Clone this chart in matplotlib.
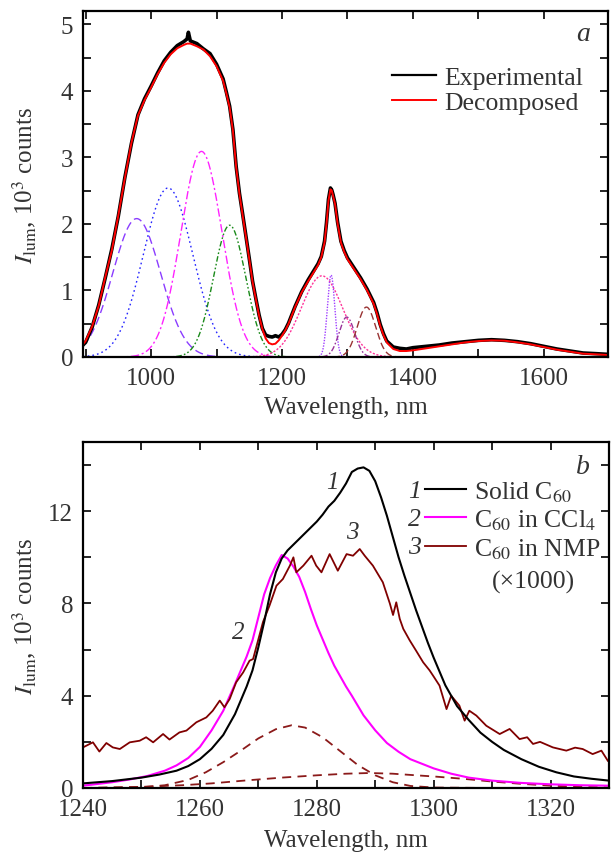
import numpy as np
import matplotlib
matplotlib.use('Agg')
import matplotlib.pyplot as plt
from matplotlib.lines import Line2D
from matplotlib.ticker import MultipleLocator

plt.rcParams['font.family'] = ['Liberation Serif', 'DejaVu Serif']
plt.rcParams['mathtext.fontset'] = 'stix'
plt.rcParams['font.size'] = 18
TXT = '#333333'

# ---------------- Panel a data ----------------
wl_a = [896, 900, 910, 920, 930, 940, 950, 960, 970, 980, 990, 1000, 1010, 1020, 1030, 1040, 1050,
        1055, 1057, 1060, 1070, 1080, 1090, 1100,
        1110, 1115, 1120, 1125, 1130, 1135, 1140, 1145, 1150, 1155, 1160, 1165, 1170, 1175, 1180,
        1185, 1190, 1195, 1200, 1205, 1210,
        1220, 1230, 1240, 1250, 1255, 1260, 1265, 1268, 1271, 1274, 1276, 1278, 1281,
        1285, 1290, 1295, 1300, 1310, 1320, 1330, 1340, 1345, 1350, 1355, 1360,
        1370, 1380, 1390, 1400, 1420, 1440, 1460, 1480, 1500, 1520, 1540, 1560, 1580, 1600,
        1620, 1640, 1660, 1680, 1698]
decomposed = [0.19, 0.24, 0.46, 0.77, 1.20, 1.60, 2.13, 2.69, 3.22, 3.63, 3.86, 4.05, 4.25, 4.42, 4.55, 4.64, 4.69,
              4.71, 4.71, 4.71, 4.67, 4.62, 4.52, 4.37,
              4.15, 3.96, 3.75, 3.40, 2.85, 2.45, 2.12, 1.80, 1.47, 1.13, 0.87, 0.62, 0.42, 0.28, 0.21,
              0.19, 0.20, 0.25, 0.32, 0.40, 0.50,
              0.75, 0.97, 1.14, 1.30, 1.38, 1.50, 1.72, 2.00, 2.35, 2.52, 2.50, 2.42, 2.30,
              2.00, 1.72, 1.58, 1.47, 1.32, 1.17, 1.00, 0.80, 0.65, 0.47, 0.33, 0.22,
              0.12, 0.09, 0.09, 0.10, 0.13, 0.16, 0.19, 0.22, 0.24, 0.25, 0.245, 0.22, 0.19, 0.15,
              0.11, 0.08, 0.05, 0.04, 0.03]
experimental = [0.18, 0.22, 0.45, 0.78, 1.19, 1.62, 2.12, 2.70, 3.21, 3.64, 3.88, 4.07, 4.27, 4.45, 4.58, 4.68, 4.74,
                4.78, 4.88, 4.75, 4.71, 4.63, 4.56, 4.40,
                4.18, 3.98, 3.77, 3.42, 2.86, 2.46, 2.14, 1.81, 1.48, 1.14, 0.88, 0.63, 0.43, 0.33, 0.31,
                0.30, 0.32, 0.30, 0.34, 0.41, 0.51,
                0.76, 0.98, 1.16, 1.32, 1.40, 1.51, 1.74, 2.02, 2.37, 2.54, 2.51, 2.44, 2.31,
                2.02, 1.74, 1.60, 1.49, 1.34, 1.19, 1.02, 0.82, 0.67, 0.49, 0.35, 0.24,
                0.15, 0.13, 0.12, 0.14, 0.16, 0.18, 0.21, 0.23, 0.25, 0.26, 0.25, 0.23, 0.20, 0.16,
                0.12, 0.09, 0.06, 0.05, 0.04]

# Gaussian bands of the decomposition: centre (nm), height (10^3 counts), FWHM (nm)
band_center = [978, 1026, 1077, 1120, 1261, 1275, 1299, 1329]
band_height = [2.08, 2.54, 3.09, 1.98, 1.22, 1.23, 0.60, 0.75]
band_fwhm = [86, 89, 74, 58, 74, 13.5, 28, 33]
band_color = ['#8a3cff', '#2424ff', '#ff22ff', '#1a8a1a', '#ff3399', '#a040ff', '#993399', '#993333']
band_dash = [(6, 3), (1.2, 2.2), (6, 2, 1.5, 2), (4, 1.6, 1.2, 1.6, 1.2, 1.6), (1.5, 1.2),
             (1.0, 1.0), (4, 1.5, 1.2, 1.5), (5, 2.5)]

# ---------------- Panel b data ----------------
solid = [(1240, 0.20), (1245, 0.30), (1250, 0.45), (1253, 0.58), (1256, 0.75), (1258, 0.95),
         (1260, 1.25), (1262, 1.70), (1264, 2.30), (1266, 3.20), (1268, 4.40), (1269, 5.10),
         (1270, 6.10), (1271, 7.20), (1272, 8.40), (1273, 9.35), (1274, 9.95), (1275, 10.30),
         (1276, 10.55), (1277, 10.80), (1278, 11.05), (1279, 11.30), (1280, 11.55), (1281, 11.85),
         (1282, 12.20), (1283, 12.45), (1284, 12.80), (1285, 13.20), (1286, 13.70), (1287, 13.85),
         (1288, 13.90), (1289, 13.75), (1290, 13.30), (1291, 12.60), (1292, 11.80), (1293, 10.90),
         (1294, 10.00), (1295, 9.20), (1296, 8.45), (1297, 7.70), (1298, 7.00), (1299, 6.30),
         (1300, 5.65), (1302, 4.45), (1304, 3.55), (1306, 2.95), (1308, 2.40), (1310, 2.00),
         (1312, 1.65), (1315, 1.25), (1318, 0.92), (1321, 0.68), (1324, 0.50), (1327, 0.40),
         (1330, 0.32)]
ccl4 = [(1240, 0.10), (1245, 0.25), (1248, 0.37), (1251, 0.52), (1254, 0.75), (1256, 0.98),
        (1258, 1.30), (1260, 1.78), (1262, 2.50), (1264, 3.35), (1266, 4.50), (1268, 5.70),
        (1269, 6.40), (1270, 7.40), (1271, 8.40), (1272, 9.10), (1273, 9.65), (1274, 10.10),
        (1275, 9.95), (1276, 9.60), (1277, 9.15), (1278, 8.50), (1279, 7.75), (1280, 7.05),
        (1281, 6.45), (1282, 5.85), (1283, 5.30), (1284, 4.85), (1285, 4.40), (1286, 4.00),
        (1288, 3.15), (1290, 2.50), (1292, 1.95), (1294, 1.57), (1296, 1.25), (1298, 1.05),
        (1300, 0.85), (1303, 0.62), (1306, 0.45), (1310, 0.32), (1315, 0.22), (1320, 0.16),
        (1325, 0.12), (1330, 0.10)]
nmp = [(1240, 1.76), (1241.7, 1.98), (1242.8, 1.58), (1244, 1.95), (1245.1, 1.76), (1246.3, 1.69),
       (1248, 1.98), (1249.7, 2.05), (1250.8, 2.20), (1252, 1.98), (1253.7, 2.34), (1254.8, 2.10),
       (1256.5, 2.41), (1257.7, 2.49), (1259.4, 2.85), (1261.1, 3.06), (1262.2, 3.35), (1263.4, 3.79),
       (1264.2, 3.50), (1265.1, 3.86), (1266.2, 4.58), (1267.4, 5.01), (1268.5, 5.52), (1269.1, 5.59),
       (1270.8, 7.20), (1271.9, 7.90), (1273.1, 8.77), (1274.2, 9.06), (1275.4, 9.64), (1276, 10.00),
       (1276.5, 9.35), (1277.7, 9.64), (1279.1, 10.07), (1279.9, 9.64), (1280.8, 9.35), (1282.2, 10.14),
       (1283.6, 9.42), (1285.1, 10.14), (1286.2, 10.07), (1287.35, 10.36), (1288.2, 10.07),
       (1289.6, 9.64), (1291.3, 8.92), (1292.5, 8.00), (1293.05, 7.50), (1293.6, 8.05), (1294.2, 7.33),
       (1294.8, 6.90), (1295.9, 6.40), (1297, 5.95), (1298.2, 5.45), (1299.3, 5.10), (1299.9, 4.87),
       (1301, 4.44), (1302.2, 3.42), (1303, 4.00), (1304.4, 3.57), (1305.3, 2.92), (1306.1, 3.35),
       (1307.3, 3.14), (1309, 2.70), (1311.3, 2.34), (1313, 2.56), (1314.7, 2.12), (1316, 2.20),
       (1317, 1.91), (1318.2, 2.00), (1320.4, 1.76), (1322.7, 1.62), (1324.2, 1.75), (1325.5, 1.69),
       (1327.2, 1.47), (1328.7, 1.62), (1329.8, 1.18)]
nmp_band1 = [(1240, 0.0), (1250, 0.03), (1254, 0.12), (1258, 0.35), (1261, 0.68), (1264, 1.12),
             (1267, 1.62), (1270, 2.15), (1273, 2.55), (1275.7, 2.72), (1278, 2.62), (1281, 2.20),
             (1284, 1.60), (1287, 1.00), (1290, 0.55), (1293, 0.25), (1296, 0.09), (1300, 0.02),
             (1310, 0.0), (1330, 0.0)]
nmp_band2 = [(1240, 0.0), (1250, 0.05), (1257, 0.12), (1262, 0.20), (1268, 0.33), (1274, 0.45),
             (1280, 0.55), (1285, 0.62), (1289, 0.65), (1293, 0.62), (1297, 0.55), (1300, 0.50),
             (1305, 0.40), (1310, 0.28), (1315, 0.18), (1320, 0.10), (1325, 0.05), (1330, 0.02)]

W, H = 612, 854
fig = plt.figure(figsize=(W / 100, H / 100), dpi=100)


def axes_px(left, top, right, bottom):
    return fig.add_axes([left / W, 1 - bottom / H, (right - left) / W, (bottom - top) / H])


def style(ax):
    for s in ax.spines.values():
        s.set_linewidth(1.6)
        s.set_color('black')
    ax.tick_params(which='both', direction='in', top=True, right=True, length=5.5, width=1.2,
                   labelsize=18, labelcolor=TXT, pad=7)


# ---------------- Panel a ----------------
ax = axes_px(83, 12, 608, 358)
grid = np.linspace(896, 1698, 1605)
for c, h, fw, col, ds in zip(band_center, band_height, band_fwhm, band_color, band_dash):
    sig = fw / 2.3548
    ax.plot(grid, h * np.exp(-0.5 * ((grid - c) / sig) ** 2), color=col, lw=1.0, dashes=ds)
ax.plot(wl_a, experimental, color='black', lw=2.6, solid_joinstyle='round')
ax.plot(wl_a, decomposed, color='#ff0000', lw=1.4)
ax.set_xlim(896, 1698)
ax.set_ylim(0, 5.2)
ax.xaxis.set_major_locator(MultipleLocator(200))
ax.xaxis.set_minor_locator(MultipleLocator(100))
ax.yaxis.set_major_locator(MultipleLocator(1))
ax.yaxis.set_minor_locator(MultipleLocator(0.5))
style(ax)
ax.set_xlabel('Wavelength, nm', color=TXT, fontsize=18)
ax.xaxis.set_label_coords(0.5, -0.113)
ax.set_ylabel(r'$I_{\rm lum}$, 10$^3$ counts', color=TXT, fontsize=18)
ax.yaxis.set_label_coords(-0.085, 0.5)
ax.text(0.952, 0.934, 'a', transform=ax.transAxes, style='italic', fontsize=20,
        color=TXT, ha='center', va='center')
hs = [Line2D([], [], color='black', lw=1.6), Line2D([], [], color='#ff0000', lw=1.4)]
ax.legend(hs, ['Experimental', 'Decomposed'], loc='upper left', bbox_to_anchor=(0.589, 0.84),
          frameon=False, borderpad=0, borderaxespad=0, handlelength=1.72, handletextpad=0.3,
          labelspacing=0.07, labelcolor=TXT, fontsize=18.5)

# ---------------- Panel b ----------------
bx = axes_px(83, 443, 609, 789)
x, y = np.array(nmp_band1).T
bx.plot(x, y, color='#8b1a1a', lw=1.3, dashes=(5, 3.5))
x, y = np.array(nmp_band2).T
bx.plot(x, y, color='#8b1a1a', lw=1.3, dashes=(5, 3.5))
x, y = np.array(ccl4).T
bx.plot(x, y, color='#ff00ff', lw=1.5)
x, y = np.array(nmp).T
bx.plot(x, y, color='#800000', lw=1.3)
x, y = np.array(solid).T
bx.plot(x, y, color='black', lw=1.5)
bx.set_xlim(1240, 1330)
bx.set_ylim(0, 15)
bx.xaxis.set_major_locator(MultipleLocator(20))
bx.xaxis.set_minor_locator(MultipleLocator(10))
bx.yaxis.set_major_locator(MultipleLocator(4))
bx.yaxis.set_minor_locator(MultipleLocator(2))
style(bx)
bx.set_xlabel('Wavelength, nm', color=TXT, fontsize=18)
bx.xaxis.set_label_coords(0.5, -0.118)
bx.set_ylabel(r'$I_{\rm lum}$, 10$^3$ counts', color=TXT, fontsize=18)
bx.yaxis.set_label_coords(-0.085, 0.5)
bx.text(0.951, 0.93, 'b', transform=bx.transAxes, style='italic', fontsize=20,
        color=TXT, ha='center', va='center')
# curve labels
bx.text(1282.6, 13.26, '1', style='italic', color=TXT, ha='center', va='center', fontsize=18)
bx.text(1286.0, 11.1, '3', style='italic', color=TXT, ha='center', va='center', fontsize=18)
bx.text(1266.5, 6.76, '2', style='italic', color=TXT, ha='center', va='center', fontsize=18)
hb = [Line2D([], [], color='black', lw=1.5), Line2D([], [], color='#ff00ff', lw=1.5),
      Line2D([], [], color='#800000', lw=1.3)]
bx.legend(hb, [r'Solid C$_{60}$', r'C$_{60}$ in CCl$_4$', r'C$_{60}$ in NMP'],
          loc='upper left', bbox_to_anchor=(0.65, 0.893), frameon=False, borderpad=0,
          borderaxespad=0, handlelength=1.6, handletextpad=0.3, labelspacing=0.15,
          labelcolor=TXT, fontsize=18.5)
for i, yy in enumerate([0.858, 0.777, 0.697]):
    bx.text(0.631, yy, str(i + 1), transform=bx.transAxes, style='italic', color=TXT,
            ha='center', va='center', fontsize=18.5)
bx.text(0.856, 0.597, '(×1000)', transform=bx.transAxes, color=TXT, ha='center',
        va='center', fontsize=18.5)

fig.savefig('out.png', dpi=100)
